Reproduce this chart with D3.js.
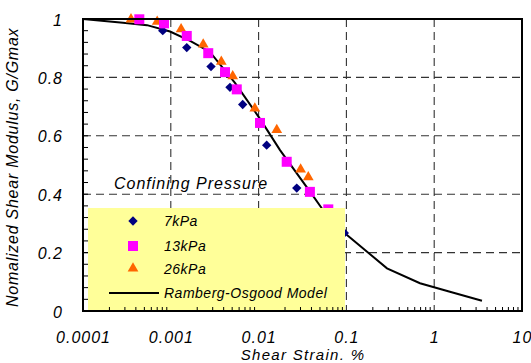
<!DOCTYPE html>
<html>
<head>
<meta charset="utf-8">
<script src="https://cdn.jsdelivr.net/npm/d3@7"></script>
<style>
  html, body { margin: 0; padding: 0; background: #fff; }
  svg { display: block; }
  text { font-family: Arial, "Liberation Sans", sans-serif; font-style: italic; fill: #000; letter-spacing: 1px; }
</style>
</head>
<body>
<svg id="chart" width="531" height="363"></svg>
<script>
// Shear strain (%) and normalized shear modulus for each confining pressure
const strain7 = [0.00081, 0.00152, 0.00287, 0.00472, 0.00659, 0.01236, 0.0272, 0.0946];
const ratio7  = [0.960, 0.902, 0.837, 0.766, 0.707, 0.568, 0.421, 0.267];

const strain13 = [0.000438, 0.000837, 0.00152, 0.00267, 0.00414, 0.00564, 0.01038, 0.0209, 0.0384, 0.0622];
const ratio13  = [0.999, 0.985, 0.942, 0.883, 0.818, 0.759, 0.644, 0.511, 0.408, 0.348];

const strain26 = [0.000352, 0.00070, 0.00131, 0.00234, 0.00376, 0.00507, 0.00906, 0.0161, 0.0301, 0.0368];
const ratio26  = [0.999, 0.991, 0.965, 0.913, 0.854, 0.804, 0.694, 0.620, 0.485, 0.458];

// Ramberg-Osgood model curve
const modelStrain = [0.0001, 0.000285, 0.000536, 0.00098, 0.00166, 0.00279, 0.00538, 0.01038, 0.01754, 0.0417, 0.0541, 0.1016, 0.172, 0.290, 0.689, 1.51, 3.50];
const modelRatio  = [1.000, 0.987, 0.979, 0.957, 0.925, 0.887, 0.781, 0.658, 0.551, 0.394, 0.346, 0.260, 0.203, 0.146, 0.095, 0.066, 0.035];

// Axis ticks
const xTickValues = [0.0001, 0.001, 0.01, 0.1, 1, 10];
const xTickLabels = ["0.0001", "0.001", "0.01", "0.1", "1", "10"];
const yTickValues = [0, 0.2, 0.4, 0.6, 0.8, 1];
const yTickLabels = ["0", "0.2", "0.4", "0.6", "0.8", "1"];

const legendItems = ["7kPa", "13kPa", "26kPa", "Ramberg-Osgood Model"];

const svg = d3.select("#chart");
const plotLeft = 83, plotRight = 522, plotTop = 19, plotBottom = 311;

const x = d3.scaleLog().domain([0.0001, 10]).range([plotLeft, plotRight]);
const y = d3.scaleLinear().domain([0, 1]).range([plotBottom, plotTop]);

// Dashed grid
const grid = svg.append("g").attr("stroke", "#333").attr("stroke-width", 1.1).attr("stroke-dasharray", "8,5").attr("fill", "none");
grid.selectAll("line.gx").data(xTickValues.slice(1, -1)).join("line")
  .attr("x1", d => x(d)).attr("x2", d => x(d)).attr("y1", plotTop).attr("y2", plotBottom);
grid.selectAll("line.gy").data(yTickValues.slice(1, -1)).join("line")
  .attr("x1", plotLeft).attr("x2", plotRight).attr("y1", d => y(d)).attr("y2", d => y(d));

// Model curve
const line = d3.line().x(d => x(d[0])).y(d => y(d[1]));
svg.append("path")
  .datum(d3.zip(modelStrain, modelRatio))
  .attr("d", line)
  .attr("fill", "none").attr("stroke", "#000").attr("stroke-width", 2);

// Markers
const diamond = d3.symbol().type(d3.symbolSquare).size(44);
const square = d3.symbol().type(d3.symbolSquare).size(100);
const triangle = d3.symbol().type(d3.symbolTriangle).size(50);

svg.append("g").selectAll("path").data(d3.zip(strain26, ratio26)).join("path")
  .attr("d", triangle)
  .attr("transform", d => `translate(${x(d[0])},${y(d[1])})`)
  .attr("fill", "#FF6600");
svg.append("g").selectAll("path").data(d3.zip(strain7, ratio7)).join("path")
  .attr("d", diamond)
  .attr("transform", d => `translate(${x(d[0])},${y(d[1])}) rotate(45)`)
  .attr("fill", "#000080");
svg.append("g").selectAll("path").data(d3.zip(strain13, ratio13)).join("path")
  .attr("d", square)
  .attr("transform", d => `translate(${x(d[0])},${y(d[1])})`)
  .attr("fill", "#FF00FF");

// Legend
svg.append("text").attr("x", 114).attr("y", 189).style("font-size", "16px").text("Confining Pressure");
const lg = svg.append("g");
lg.append("rect").attr("x", 88).attr("y", 208).attr("width", 257).attr("height", 102).attr("fill", "#FFFF99");
lg.append("path").attr("d", diamond).attr("transform", "translate(133,221) rotate(45)").attr("fill", "#000080");
lg.append("path").attr("d", square).attr("transform", "translate(133,246)").attr("fill", "#FF00FF");
lg.append("path").attr("d", triangle).attr("transform", "translate(133,268.5)").attr("fill", "#FF6600");
lg.append("line").attr("x1", 109).attr("x2", 159).attr("y1", 293).attr("y2", 293).attr("stroke", "#000").attr("stroke-width", 2);
const legendY = [226, 251, 273.5, 297.5];
lg.selectAll("text").data(legendItems).join("text")
  .attr("x", 164).attr("y", (d, i) => legendY[i])
  .style("font-size", "14px").style("letter-spacing", "0.5px")
  .text(d => d);

// Minor ticks pointing inward
const minorX = [];
for (let e = -4; e <= 0; e++) for (let k = 2; k <= 9; k++) minorX.push(k * Math.pow(10, e));
svg.append("g").attr("stroke", "#000").attr("stroke-width", 1)
  .selectAll("line").data(minorX).join("line")
  .attr("x1", d => x(d)).attr("x2", d => x(d)).attr("y1", plotBottom).attr("y2", plotBottom - 4);
const minorY = d3.range(1, 25).map(i => i * 0.04);
svg.append("g").attr("stroke", "#000").attr("stroke-width", 1)
  .selectAll("line").data(minorY).join("line")
  .attr("x1", plotLeft).attr("x2", plotLeft + 5).attr("y1", d => y(d)).attr("y2", d => y(d));

// Frame
svg.append("rect").attr("x", plotLeft).attr("y", plotTop).attr("width", plotRight - plotLeft).attr("height", plotBottom - plotTop)
  .attr("fill", "none").attr("stroke", "#000").attr("stroke-width", 2);

// Tick labels
const xAxis = svg.append("g").attr("transform", `translate(0,${plotBottom})`)
  .call(d3.axisBottom(x).tickValues(xTickValues).tickFormat((d, i) => xTickLabels[i]).tickSize(0));
xAxis.select(".domain").remove();
xAxis.selectAll("text").attr("y", 31.6).attr("dy", null)
  .style("font-size", "16px").style("font-family", "Arial, 'Liberation Sans', sans-serif").style("font-style", "italic");

const yAxis = svg.append("g").attr("transform", `translate(${plotLeft},0)`)
  .call(d3.axisLeft(y).tickValues(yTickValues).tickFormat((d, i) => yTickLabels[i]).tickSize(0));
yAxis.select(".domain").remove();
yAxis.selectAll("text").attr("x", -20).attr("dy", "0.38em")
  .style("font-size", "16px").style("font-family", "Arial, 'Liberation Sans', sans-serif").style("font-style", "italic");

// Axis titles
svg.append("text").attr("x", 303).attr("y", 359.6).attr("text-anchor", "middle")
  .style("font-size", "15px").style("letter-spacing", "1.3px").text("Shear Strain. %");

svg.append("clipPath").attr("id", "titleClip")
  .append("rect").attr("x", 0).attr("y", 27).attr("width", 40).attr("height", 336);
svg.append("g")
  .attr("clip-path", "url(#titleClip)")
  .append("text")
  .attr("transform", "translate(17.5,307) rotate(-90)")
  .style("font-size", "16px").style("letter-spacing", "0.75px")
  .text("Nomalized Shear Modulus,  G/Gmax");
</script>
</body>
</html>
